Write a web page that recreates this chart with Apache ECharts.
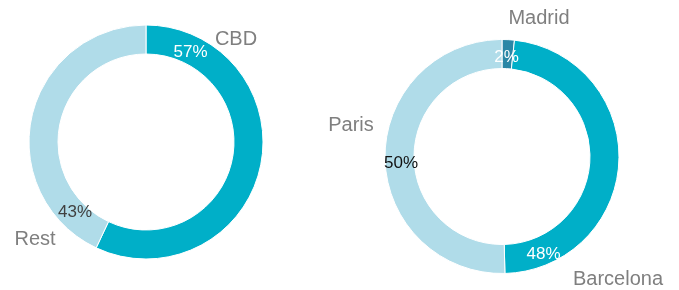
<!DOCTYPE html>
<html>
<head>
<meta charset="utf-8">
<style>
  html, body { margin: 0; padding: 0; background: #fff; }
  #chart { width: 679px; height: 290px; }
</style>
<script src="https://cdn.jsdelivr.net/npm/echarts@6/dist/echarts.min.js"></script>
</head>
<body>
<div id="chart"></div>
<script>
// left donut
const leftNames = ['CBD', 'Rest']
const leftValues = [57, 43]
// right donut
const rightNames = ['Madrid', 'Barcelona', 'Paris']
const rightValues = [1.7, 47.9, 50.4]

const leftColors = ['#00afc8', '#b0dce9']
const rightColors = ['#2a87a6', '#00afc8', '#b0dce9']
const leftPctColors = ['#ffffff', '#404040']
const rightPctColors = ['#ffffff', '#ffffff', '#111111']

const leftCenter = [146, 142]
const rightCenter = [502, 156.5]
// label anchors, offset from the donut centre
const leftPctPos = [[44.5, -90], [-71, 70.5]]
const leftNamePos = [[90, -103], [-111, 97.5]]
const rightPctPos = [[4.5, -99.5], [41.5, 98], [-101, 7]]
const rightNamePos = [[37, -138.5], [116, 123], [-151, -31.5]]

const font = 'Liberation Sans, Arial, sans-serif'

const place = ( center, pos ) => ( params ) => ( {
  x : center[0] + pos[params.dataIndex][0],
  y : center[1] + pos[params.dataIndex][1],
  align : 'center',
  verticalAlign : 'middle'
} )

const donut = ( names, values, colors, pctColors, center, pctPos ) => ( {
  type : 'pie',
  center : center,
  radius : [88, 117],
  startAngle : 90,
  clockwise : true,
  avoidLabelOverlap : false,
  silent : true,
  itemStyle : { borderColor : '#fff', borderWidth : 1 },
  label : {
    show : true,
    position : 'inside',
    formatter : ( p ) => Math.round( p.value ) + '%',
    fontFamily : font,
    fontSize : 17
  },
  labelLine : { show : false },
  labelLayout : place( center, pctPos ),
  data : names.map( ( n, i ) => ( {
    name : n,
    value : values[i],
    itemStyle : { color : colors[i] },
    label : { color : pctColors[i] }
  } ) )
} )

const nameRing = ( names, values, center, namePos ) => ( {
  type : 'pie',
  center : center,
  radius : [88, 117],
  startAngle : 90,
  avoidLabelOverlap : false,
  silent : true,
  z : 3,
  itemStyle : { color : 'rgba(0,0,0,0)' },
  label : {
    show : true,
    position : 'outside',
    formatter : '{b}',
    color : '#7f7f7f',
    fontFamily : font,
    fontSize : 20
  },
  labelLine : { show : false },
  labelLayout : place( center, namePos ),
  data : names.map( ( n, i ) => ( { name : n, value : values[i] } ) )
} )

const chart = echarts.init( document.getElementById( 'chart' ) )
chart.setOption( {
  animation : false,
  series : [
    donut( leftNames, leftValues, leftColors, leftPctColors, leftCenter, leftPctPos ),
    nameRing( leftNames, leftValues, leftCenter, leftNamePos ),
    donut( rightNames, rightValues, rightColors, rightPctColors, rightCenter, rightPctPos ),
    nameRing( rightNames, rightValues, rightCenter, rightNamePos )
  ]
} )
</script>
</body>
</html>
